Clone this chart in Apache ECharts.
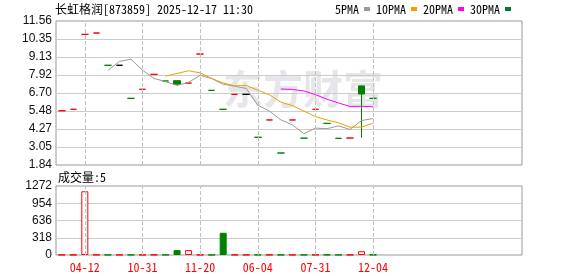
<!DOCTYPE html>
<html><head><meta charset="utf-8">
<script src="https://cdn.jsdelivr.net/npm/echarts@6/dist/echarts.min.js"></script>
<style>html,body{margin:0;padding:0;background:#fff}#c{width:578px;height:276px}</style>
</head><body><div id="c"></div>
<script>
// ---- data ----
const titleText = '长虹格润[873859] 2025-12-17 11:30';
const categories = ['', '', '04-12', '', '', '', '', '10-31', '', '', '', '', '11-20', '', '', '', '', '06-04', '', '', '', '', '07-31', '', '', '', '', '12-04'];
const opens  = [5.50, 5.60, 10.66, 10.75, 8.57, 8.57, 6.34, 6.95, 7.96, 7.51, 7.53, 7.37, 9.33, 6.88, 5.60, 6.61, 6.61, 3.71, 4.88, 2.65, 4.88, 3.65, 5.60, 4.65, 3.64, 3.66, 7.18, 6.34];
const closes = [5.50, 5.60, 10.66, 10.75, 8.57, 8.57, 6.34, 6.95, 7.96, 7.51, 7.29, 7.37, 9.33, 6.88, 5.60, 6.61, 6.61, 3.71, 4.88, 2.65, 4.88, 3.65, 5.60, 4.65, 3.64, 3.66, 6.63, 6.34];
const lows   = [5.50, 5.60, 10.66, 10.75, 8.57, 8.57, 6.34, 6.95, 7.96, 7.51, 7.29, 7.37, 9.33, 6.88, 5.60, 6.61, 6.61, 3.71, 4.88, 2.65, 4.88, 3.65, 5.60, 4.65, 3.64, 3.66, 3.68, 6.34];
const highs  = [5.50, 5.60, 10.66, 10.75, 8.57, 8.57, 6.34, 6.95, 7.96, 7.51, 7.53, 7.37, 9.33, 6.88, 5.60, 6.61, 6.61, 3.71, 4.88, 2.65, 4.88, 3.65, 5.60, 4.65, 3.64, 3.66, 7.18, 6.34];
const ma5  = [null, null, null, null, 8.22, 8.83, 8.98, 8.24, 7.68, 7.47, 7.21, 7.42, 7.89, 7.68, 7.29, 7.16, 7.01, 5.88, 5.48, 4.89, 4.55, 3.95, 4.33, 4.29, 4.48, 4.24, 4.84, 4.98];
const ma10 = [null, null, null, null, null, null, null, null, null, 7.84, 8.02, 8.20, 8.06, 7.68, 7.38, 7.18, 7.21, 6.89, 6.58, 6.09, 5.85, 5.48, 5.11, 4.88, 4.69, 4.39, 4.40, 4.66];
const ma20 = [null, null, null, null, null, null, null, null, null, null, null, null, null, null, null, null, null, null, null, 6.97, 6.94, 6.84, 6.59, 6.28, 6.03, 5.79, 5.80, 5.77];
const ma30 = [];
const volumes = [4, 3, 1175, 5, 4, 3, 4, 3, 5, 4, 90, 90, 4, 3, 410, 4, 3, 5, 4, 3, 4, 3, 4, 5, 3, 4, 70, 5];
const priceTicks = ['1.84', '3.05', '4.27', '5.48', '6.70', '7.92', '9.13', '10.35', '11.56'];
const priceMin = 1.84, priceMax = 11.56;
const volMax = 1272, volStep = 318;
const volumeTitle = '成交量:5';
const legendNames = ['5PMA', '10PMA', '20PMA', '30PMA'];
const watermark = '东方财富';

// ---- styling / layout ----
const RED = '#ff0000', GREEN = '#008000', BLACK = '#000000';
const SLOTS = 40;
const axisCats = categories.concat(new Array(SLOTS - categories.length).fill(''));
const mono = "'Noto Sans Mono CJK SC','Noto Sans CJK SC',monospace";
const sans = "'Liberation Sans',Arial,sans-serif";

const candleData = opens.map((o, i) => {
  const c = closes[i];
  let col;
  if (o > c) col = GREEN;
  else if (o < c) col = RED;
  else if (i === 0) col = RED;
  else col = c > closes[i - 1] ? RED : (c < closes[i - 1] ? GREEN : BLACK);
  const fill = col === RED ? '#ffffff' : col;
  return { value: [o, c, lows[i], highs[i]],
    itemStyle: { color: fill, color0: fill, borderColor: col, borderColor0: col, borderColorDoji: col, borderWidth: 1 } };
});
const volData = volumes.map((v, i) => {
  const up = i === 0 || closes[i] >= closes[i - 1];
  return { value: v, itemStyle: up ? { color: '#ffffff', borderColor: RED, borderWidth: 1 }
                                   : { color: GREEN, borderColor: GREEN, borderWidth: 1 } };
});
// dashed vertical guides at the labelled categories
const guideLines = {
  silent: true, symbol: 'none', animation: false,
  label: { show: false },
  lineStyle: { color: '#c0c0c0', type: 'dashed', width: 1 },
  emphasis: { disabled: true },
  data: categories.map((c, i) => c !== '' ? { xAxis: i } : null).filter(d => d)
};

const G = { main: { top: 21, height: 144 }, vol: { top: 186, height: 69 } };
const visGrid = g => ({ left: 56, width: 466, top: g.top, height: g.height, show: true, borderColor: '#999', borderWidth: 1, backgroundColor: 'transparent' });
const dataGrid = g => ({ left: 56, width: 461.2, top: g.top, height: g.height, show: false });

const chart = echarts.init(document.getElementById('c'), null, { renderer: 'canvas' });
chart.setOption({
  animation: false,
  backgroundColor: '#ffffff',
  title: [
    { text: titleText, left: 55, top: 3, padding: 0, textStyle: { fontSize: 12, fontWeight: 'normal', color: '#000', fontFamily: mono } },
    { text: volumeTitle, left: 58, top: 171, padding: 0, textStyle: { fontSize: 12, fontWeight: 'normal', color: '#000', fontFamily: mono } }
  ],
  legend: { data: legendNames, right: 67, top: 3, padding: 0, align: 'right', icon: 'rect', itemWidth: 6, itemHeight: 4, itemGap: 6,
    selectedMode: false, textStyle: { fontSize: 12, color: '#000', fontFamily: mono } },
  graphic: [{ type: 'text', left: 223, top: 69, z: -10, silent: true,
    style: { text: watermark, font: 'bold 40px "Noto Sans CJK SC"', fill: '#e6e6ea' } }],
  grid: [visGrid(G.main), dataGrid(G.main), visGrid(G.vol), dataGrid(G.vol)],
  xAxis: [
    { type: 'value', gridIndex: 0, min: 0, max: 1, show: false },
    { type: 'category', gridIndex: 1, data: axisCats, boundaryGap: true,
      axisLine: { show: false }, axisTick: { show: false }, axisLabel: { show: false }, splitLine: { show: false } },
    { type: 'value', gridIndex: 2, min: 0, max: 1, show: false },
    { type: 'category', gridIndex: 3, data: axisCats, boundaryGap: true,
      axisLine: { show: false }, axisTick: { show: false },
      axisLabel: { show: true, interval: 0, color: RED, fontSize: 12, fontFamily: mono, margin: 6 },
      splitLine: { show: false } }
  ],
  yAxis: [
    { type: 'value', gridIndex: 0, min: 0, max: priceTicks.length - 1, interval: 1,
      axisLine: { show: false }, axisTick: { show: false },
      axisLabel: { color: '#111', fontSize: 12, fontFamily: sans, margin: 4, formatter: v => priceTicks[v] },
      splitLine: { show: true, showMinLine: false, showMaxLine: false, lineStyle: { color: '#cccccc', width: 1 } } },
    { type: 'value', gridIndex: 1, min: priceMin, max: priceMax, show: false, splitLine: { show: false } },
    { type: 'value', gridIndex: 2, min: 0, max: volMax, interval: volStep,
      axisLine: { show: false }, axisTick: { show: false },
      axisLabel: { color: '#111', fontSize: 12, fontFamily: sans, margin: 4, formatter: v => String(v) },
      splitLine: { show: true, showMinLine: false, showMaxLine: false, lineStyle: { color: '#cccccc', width: 1 } } },
    { type: 'value', gridIndex: 3, min: 0, max: volMax, show: false, splitLine: { show: false } }
  ],
  series: [
    { type: 'candlestick', xAxisIndex: 1, yAxisIndex: 1, data: candleData, barWidth: 7, z: 3, markLine: guideLines },
    { name: '5PMA', type: 'line', xAxisIndex: 1, yAxisIndex: 1, data: ma5, symbol: 'none', color: '#9a9a9a', lineStyle: { width: 1, color: '#9a9a9a' }, z: 4 },
    { name: '10PMA', type: 'line', xAxisIndex: 1, yAxisIndex: 1, data: ma10, symbol: 'none', color: '#f0a000', lineStyle: { width: 1, color: '#f0a000' }, z: 4 },
    { name: '20PMA', type: 'line', xAxisIndex: 1, yAxisIndex: 1, data: ma20, symbol: 'none', color: '#ff00ff', lineStyle: { width: 1, color: '#ff00ff' }, z: 4 },
    { name: '30PMA', type: 'line', xAxisIndex: 1, yAxisIndex: 1, data: ma30, symbol: 'none', color: '#007a2a', lineStyle: { width: 1, color: '#007a2a' }, z: 4 },
    { type: 'bar', xAxisIndex: 3, yAxisIndex: 3, data: volData, barWidth: 7, z: 3, markLine: guideLines }
  ]
});
</script></body></html>
